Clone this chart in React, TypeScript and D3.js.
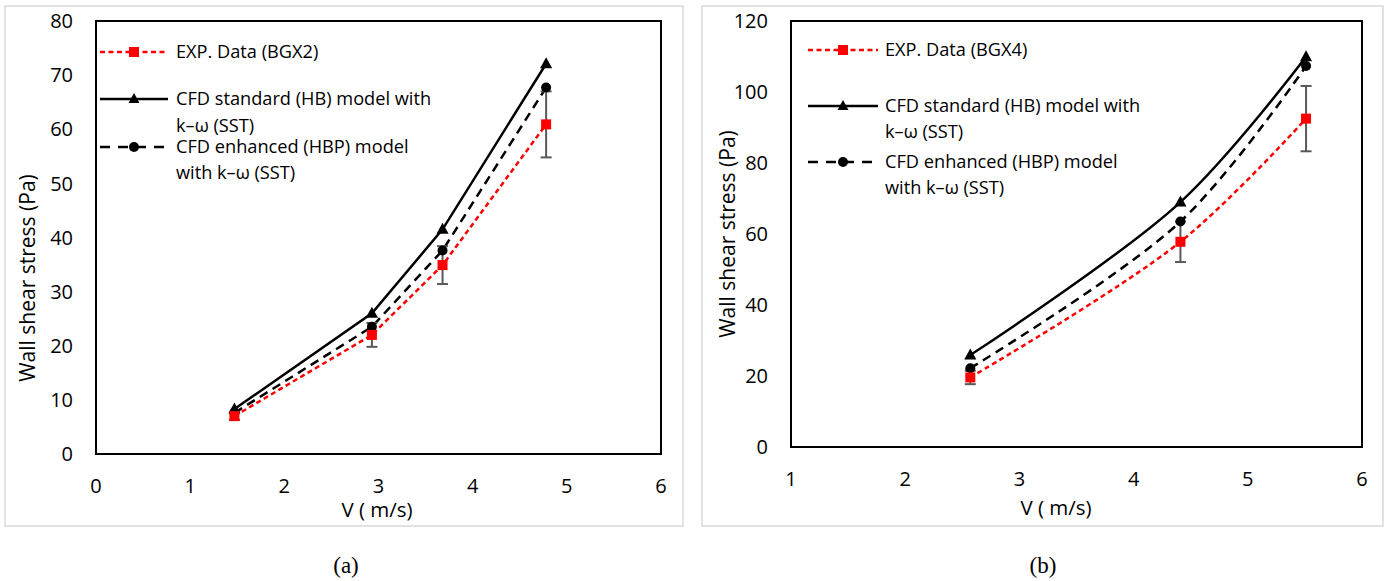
import React from "react";
import * as d3 from "d3";

// ---------- data ----------
const velocityA = [1.47, 2.93, 3.68, 4.78];
const expA = [7.0, 22.0, 34.9, 60.9];
const expErrA = [0.7, 2.2, 3.5, 6.1];
const hbA = [8.3, 26.0, 41.5, 72.1];
const hbpA = [7.6, 23.5, 37.6, 67.7];

const velocityB = [2.57, 4.41, 5.51];
const expB = [19.6, 57.8, 92.5];
const expErrB = [1.9, 5.7, 9.2];
const hbB = [25.9, 69.0, 109.9];
const hbpB = [22.2, 63.5, 107.3];

const xTicksA = [0, 1, 2, 3, 4, 5, 6];
const yTicksA = [0, 10, 20, 30, 40, 50, 60, 70, 80];
const xTicksB = [1, 2, 3, 4, 5, 6];
const yTicksB = [0, 20, 40, 60, 80, 100, 120];

const legendExpA = "EXP. Data (BGX2)";
const legendExpB = "EXP. Data (BGX4)";
const legendHB = ["CFD standard (HB) model with", "k\u2013\u03c9 (SST)"];
const legendHBP = ["CFD enhanced (HBP) model", "with k\u2013\u03c9 (SST)"];
const yTitle = "Wall shear stress (Pa)";
const xTitle = "V ( m/s)";
const captions = ["(a)", "(b)"];

const FONT = "'Open Sans', 'Noto Sans', sans-serif";

type PanelCfg = {
  frame: [number, number, number, number];
  xDomain: [number, number];
  yDomain: [number, number];
  xRange: [number, number];
  yRange: [number, number];
  xTicks: number[];
  yTicks: number[];
  v: number[];
  exp: number[];
  err: number[];
  hb: number[];
  hbp: number[];
  expLabel: string;
  legend: { x0: number; x1: number; tx: number; ys: number[] };
  yTitleX: number;
  yTitleY: number;
  xLabelY: number;
  xTitleX: number;
  xTitleY: number;
  caption: string;
  captionX: number;
  smooth: boolean;
};

const panels: PanelCfg[] = [
  {
    frame: [5, 6, 683, 526],
    xDomain: [0, 6],
    yDomain: [0, 80],
    xRange: [96, 661],
    yRange: [454, 21],
    xTicks: xTicksA,
    yTicks: yTicksA,
    v: velocityA,
    exp: expA,
    err: expErrA,
    hb: hbA,
    hbp: hbpA,
    expLabel: legendExpA,
    legend: { x0: 100, x1: 168, tx: 176, ys: [52, 99, 126, 147, 173] },
    yTitleX: 28,
    yTitleY: 278,
    xLabelY: 493,
    xTitleX: 377,
    xTitleY: 517,
    caption: captions[0],
    captionX: 346,
    smooth: false,
  },
  {
    frame: [702, 6, 1383, 526],
    xDomain: [1, 6],
    yDomain: [0, 120],
    xRange: [791, 1362],
    yRange: [447, 21],
    xTicks: xTicksB,
    yTicks: yTicksB,
    v: velocityB,
    exp: expB,
    err: expErrB,
    hb: hbB,
    hbp: hbpB,
    expLabel: legendExpB,
    legend: { x0: 808, x1: 878, tx: 885, ys: [50, 106, 132, 162, 188] },
    yTitleX: 728,
    yTitleY: 234,
    xLabelY: 486,
    xTitleX: 1056,
    xTitleY: 515,
    caption: captions[1],
    captionX: 1043,
    smooth: true,
  },
];

const triPath = (cx: number, cy: number, s: number) =>
  `M${cx},${cy - s * 0.6}L${cx + s * 0.55},${cy + s * 0.4}L${cx - s * 0.55},${cy + s * 0.4}Z`;

function Panel({ c }: { c: PanelCfg }) {
  const x = d3.scaleLinear().domain(c.xDomain).range(c.xRange);
  const y = d3.scaleLinear().domain(c.yDomain).range(c.yRange);
  const curve = c.smooth ? d3.curveCatmullRom.alpha(0.5) : d3.curveLinear;
  const mk = (vals: number[]) =>
    d3
      .line<number>()
      .x((_, i) => x(c.v[i]))
      .y((d) => y(d))
      .curve(curve)(vals) || "";
  const [fx0, fy0, fx1, fy1] = c.frame;
  const [px0, px1] = c.xRange;
  const [py0, py1] = c.yRange;
  const L = c.legend;
  const mid = (L.x0 + L.x1) / 2;
  return (
    <g>
      <rect x={fx0} y={fy0} width={fx1 - fx0} height={fy1 - fy0} fill="#fff" stroke="#d9d9d9" strokeWidth={1.5} />
      <rect x={px0} y={py1} width={px1 - px0} height={py0 - py1} fill="none" stroke="#000" strokeWidth={2} />
      {c.yTicks.map((t) => (
        <text key={"y" + t} x={px0 - 23} y={y(t)} dy="0.36em" textAnchor="end" fontSize={20} fontFamily={FONT} fill="#000">
          {t}
        </text>
      ))}
      {c.xTicks.map((t) => (
        <text key={"x" + t} x={x(t)} y={c.xLabelY} textAnchor="middle" fontSize={20} fontFamily={FONT} fill="#000">
          {t}
        </text>
      ))}
      <text
        transform={`translate(${c.yTitleX},${c.yTitleY}) rotate(-90)`}
        textAnchor="middle"
        dy="0.35em"
        fontSize={21}
        fontFamily={FONT}
        fill="#000"
      >
        {yTitle}
      </text>
      <text x={c.xTitleX} y={c.xTitleY} textAnchor="middle" fontSize={20.5} fontFamily={FONT} fill="#000">
        {xTitle}
      </text>

      {/* series lines */}
      <path d={mk(c.hb)} fill="none" stroke="#000" strokeWidth={2.5} />
      <path d={mk(c.hbp)} fill="none" stroke="#000" strokeWidth={2.5} strokeDasharray="9 6" />
      <path d={mk(c.exp)} fill="none" stroke="#ff0000" strokeWidth={2.5} strokeDasharray="5 3.5" />

      {/* error bars */}
      {c.exp.map((d, i) => (
        <g key={"e" + i} stroke="#595959" strokeWidth={2}>
          <line x1={x(c.v[i])} x2={x(c.v[i])} y1={y(d - c.err[i])} y2={y(d + c.err[i])} />
          <line x1={x(c.v[i]) - 5.5} x2={x(c.v[i]) + 5.5} y1={y(d - c.err[i])} y2={y(d - c.err[i])} />
          <line x1={x(c.v[i]) - 5.5} x2={x(c.v[i]) + 5.5} y1={y(d + c.err[i])} y2={y(d + c.err[i])} />
        </g>
      ))}

      {/* markers */}
      {c.hb.map((d, i) => (
        <path key={"t" + i} d={triPath(x(c.v[i]), y(d), 11)} fill="#000" />
      ))}
      {c.hbp.map((d, i) => (
        <circle key={"c" + i} cx={x(c.v[i])} cy={y(d)} r={5} fill="#000" />
      ))}
      {c.exp.map((d, i) => (
        <rect key={"s" + i} x={x(c.v[i]) - 5} y={y(d) - 5} width={10} height={10} fill="#ff0000" />
      ))}

      {/* legend */}
      <g fontFamily={FONT} fontSize={18.2} fill="#000">
        <line x1={L.x0} x2={L.x1} y1={L.ys[0]} y2={L.ys[0]} stroke="#ff0000" strokeWidth={2.5} strokeDasharray="5 3.5" />
        <rect x={mid - 5} y={L.ys[0] - 5} width={10} height={10} fill="#ff0000" />
        <text x={L.tx} y={L.ys[0]} dy="0.35em">{c.expLabel}</text>

        <line x1={L.x0} x2={L.x1} y1={L.ys[1]} y2={L.ys[1]} stroke="#000" strokeWidth={2.5} />
        <path d={triPath(mid, L.ys[1], 10)} fill="#000" />
        <text x={L.tx} y={L.ys[1]} dy="0.35em">{legendHB[0]}</text>
        <text x={L.tx} y={L.ys[2]} dy="0.35em">{legendHB[1]}</text>

        <line x1={L.x0} x2={L.x1} y1={L.ys[3]} y2={L.ys[3]} stroke="#000" strokeWidth={2.5} strokeDasharray="10 8" />
        <circle cx={mid} cy={L.ys[3]} r={5} fill="#000" />
        <text x={L.tx} y={L.ys[3]} dy="0.35em">{legendHBP[0]}</text>
        <text x={L.tx} y={L.ys[4]} dy="0.35em">{legendHBP[1]}</text>
      </g>

      <text x={c.captionX} y={573} textAnchor="middle" fontSize={23} fontFamily="'Liberation Serif', 'DejaVu Serif', serif" fill="#000">
        {c.caption}
      </text>
    </g>
  );
}

export default function App() {
  return (
    <svg
      width={1385}
      height={581}
      viewBox="0 0 1385 581"
      style={{ position: "absolute", left: 0, top: 0, background: "#fff" }}
    >
      <rect x={0} y={0} width={1385} height={581} fill="#fff" />
      {panels.map((p, i) => (
        <Panel key={i} c={p} />
      ))}
    </svg>
  );
}
